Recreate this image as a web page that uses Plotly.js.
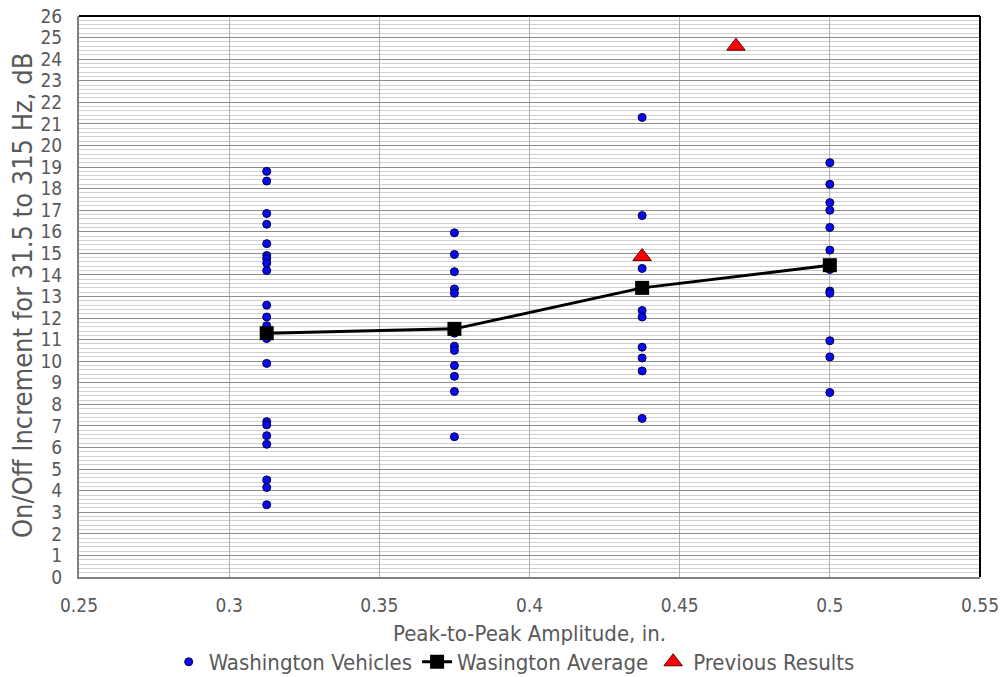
<!DOCTYPE html>
<html>
<head>
<meta charset="utf-8">
<script src="https://cdn.plot.ly/plotly-3.0.1.min.js"></script>
<style>html,body{margin:0;padding:0;background:#fff;}#chart{width:1003px;height:677px;}</style>
</head>
<body>
<div id="chart"></div>
<script>
// Peak-to-peak amplitudes (in.)
var amp1 = 0.3125, amp2 = 0.375, amp3 = 0.4375, amp4 = 0.5;
// Washington vehicles, on/off increment (dB) per amplitude group
var veh1 = [18.8, 18.35, 16.85, 16.35, 15.45, 14.9, 14.75, 14.55, 14.2, 12.6, 12.05, 11.65, 11.05, 9.9, 7.2, 7.05, 6.55, 6.15, 4.5, 4.15, 3.35];
var veh2 = [15.95, 14.95, 14.15, 13.35, 13.15, 11.3, 10.7, 10.5, 9.8, 9.3, 8.6, 6.5];
var veh3 = [21.3, 16.75, 14.3, 12.35, 12.05, 10.65, 10.15, 9.55, 7.35];
var veh4 = [19.2, 18.2, 17.35, 17.0, 16.2, 15.15, 14.25, 13.25, 13.15, 10.95, 10.2, 8.55];
// Washington average
var avgX = [0.3125, 0.375, 0.4375, 0.5];
var avgY = [11.3, 11.5, 13.4, 14.45];
// Previous results
var prevX = [0.4375, 0.46875];
var prevY = [14.85, 24.6];
// Tick labels
var xTicks = [0.25, 0.3, 0.35, 0.4, 0.45, 0.5, 0.55];
var xTickText = ['0.25', '0.3', '0.35', '0.4', '0.45', '0.5', '0.55'];

var groups = [[amp1, veh1], [amp2, veh2], [amp3, veh3], [amp4, veh4]];
var vx = [], vy = [];
groups.forEach(function (g) {
  g[1].forEach(function (v) { vx.push(g[0]); vy.push(v); });
});

var FONT = '"DejaVu Sans Condensed", "Liberation Sans Narrow", "Open Sans", sans-serif';
var TXT = '#595959';

var traces = [
  {
    x: vx, y: vy, type: 'scatter', mode: 'markers', name: 'Washington Vehicles',
    marker: {symbol: 'circle', size: 8, color: '#0a0af0', line: {color: '#000040', width: 1}}
  },
  {
    x: avgX, y: avgY, type: 'scatter', mode: 'lines+markers', name: 'Wasington Average',
    line: {color: '#000000', width: 3},
    marker: {symbol: 'square', size: 14, color: '#000000'}
  },
  {
    x: prevX, y: prevY, type: 'scatter', mode: 'markers', name: 'Previous Results',
    marker: {symbol: 'triangle-up', size: 16, color: '#ff0000', line: {color: '#600000', width: 1}}
  }
];

var layout = {
  width: 1003, height: 677,
  margin: {l: 79, r: 23, t: 16, b: 100, autoexpand: false},
  paper_bgcolor: '#ffffff', plot_bgcolor: '#ffffff',
  font: {family: FONT, color: TXT, size: 18},
  showlegend: true,
  legend: {
    orientation: 'h', x: 0.483, xanchor: 'center', y: -0.1515, yanchor: 'middle',
    font: {family: FONT, size: 22, color: TXT}, itemsizing: 'trace', tracegroupgap: 0
  },
  xaxis: {
    range: [0.25, 0.55], tickmode: 'array', tickvals: xTicks, ticktext: xTickText,
    showgrid: true, gridcolor: '#b0b0b0', gridwidth: 1,
    showline: true, linecolor: '#808080', linewidth: 2,
    ticks: '', zeroline: false, ticklabelstandoff: 10, automargin: false,
    tickfont: {family: FONT, size: 19, color: TXT}
  },
  yaxis: {
    range: [0, 26], dtick: 1, tick0: 0,
    showgrid: true, gridcolor: '#8c8c8c', gridwidth: 1,
    minor: {dtick: 0.2, showgrid: true, gridcolor: '#cfcfcf', gridwidth: 1},
    showline: true, linecolor: '#808080', linewidth: 2,
    ticks: '', zeroline: false, ticklabelstandoff: 11, automargin: false,
    tickfont: {family: FONT, size: 19, color: TXT}
  },
  annotations: [
    {text: 'Peak-to-Peak Amplitude, in.', xref: 'paper', yref: 'paper', x: 0.5, y: (577 - 633) / 561,
     xanchor: 'center', yanchor: 'middle', showarrow: false, font: {family: FONT, size: 22, color: TXT}},
    {text: 'On/Off Increment for 31.5 to 315 Hz, dB', xref: 'paper', yref: 'paper', x: (22 - 79) / 901, y: (577 - 296) / 561,
     xanchor: 'center', yanchor: 'middle', textangle: -90, showarrow: false, font: {family: FONT, size: 27, color: TXT}}
  ],
  shapes: [
    {type: 'line', xref: 'paper', yref: 'paper', x0: 0, x1: 1, y0: 1, y1: 1, line: {color: '#000000', width: 2}},
    {type: 'line', xref: 'paper', yref: 'paper', x0: 1, x1: 1, y0: 0, y1: 1, line: {color: '#000000', width: 2}}
  ]
};

Plotly.newPlot('chart', traces, layout, {displayModeBar: false, staticPlot: true});
</script>
</body>
</html>
